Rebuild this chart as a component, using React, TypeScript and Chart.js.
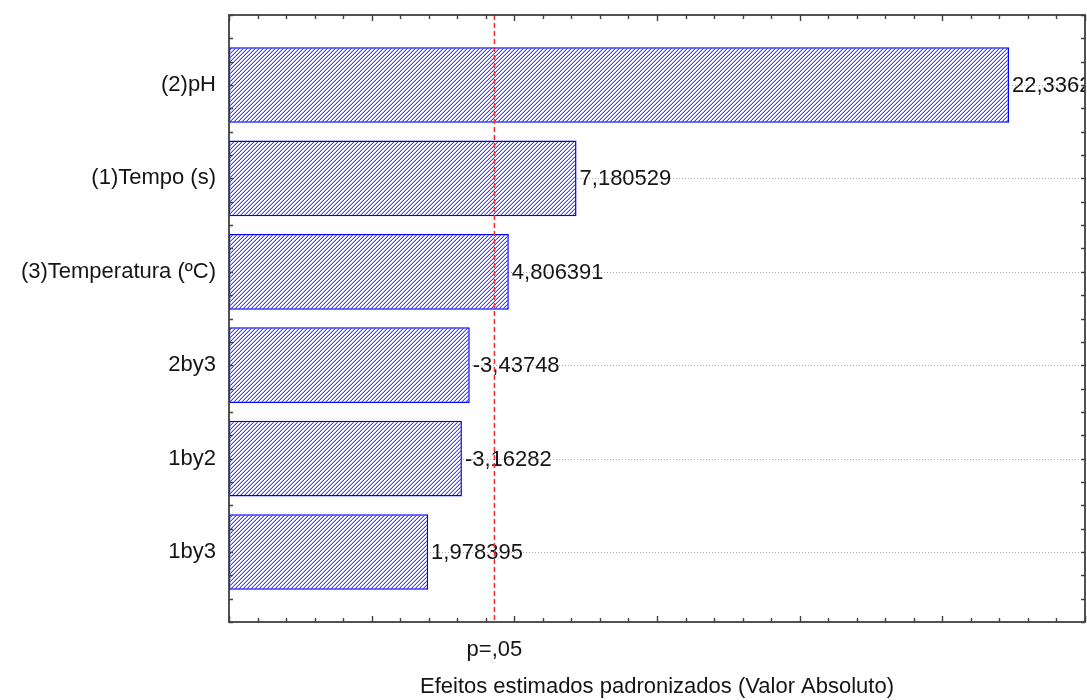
import React, { useEffect, useRef } from "react";
import { Chart, registerables } from "chart.js";

Chart.register(...registerables);

// ---- data ----
const categories = ["(2)pH", "(1)Tempo (s)", "(3)Temperatura (ºC)", "2by3", "1by2", "1by3"];
const effects = [22.3362, 7.180529, 4.806391, -3.43748, -3.16282, 1.978395];
const pValue = 4.302653;
const pLabel = "p=,05";
const xTitle = "Efeitos estimados padronizados (Valor Absoluto)";
const xMin = -5;
const xMax = 25;

const FONT = "'Liberation Sans', Arial, sans-serif";
const TEXT = "#151515";

function makeHatch(): CanvasPattern | string {
  const tile = document.createElement("canvas");
  tile.width = 4;
  tile.height = 4;
  const c = tile.getContext("2d");
  if (!c) return "#8080ff";
  const img = c.createImageData(4, 4);
  for (let y = 0; y < 4; y++) {
    for (let x = 0; x < 4; x++) {
      const k = (y * 4 + x) * 4;
      const m = (x + y) % 4;
      let r = 255, g = 255, b = 255;
      if (m === 3) { r = 60; g = 60; b = 255; }
      else if (m === 2) { r = 190; g = 190; b = 255; }
      img.data[k] = r; img.data[k + 1] = g; img.data[k + 2] = b; img.data[k + 3] = 255;
    }
  }
  c.putImageData(img, 0, 0);
  return c.createPattern(tile, "repeat") || "#8080ff";
}

const decorPlugin = {
  id: "decor",
  beforeDatasetsDraw(chart: any) {
    const { ctx, chartArea, scales } = chart;
    const y = scales.y;
    ctx.save();
    ctx.strokeStyle = "#a8a8a8";
    ctx.lineWidth = 1;
    ctx.setLineDash([1, 2]);
    categories.forEach((_, i) => {
      const py = Math.round(y.getPixelForValue(i)) + 0.5;
      ctx.beginPath();
      ctx.moveTo(chartArea.left, py);
      ctx.lineTo(chartArea.right, py);
      ctx.stroke();
    });
    ctx.restore();
  },
  afterDatasetsDraw(chart: any) {
    const { ctx, chartArea, scales } = chart;
    const x = scales.x;
    const y = scales.y;
    const { left, right, top, bottom } = chartArea;

    // value labels
    ctx.save();
    ctx.beginPath();
    ctx.rect(left, top, right - left, bottom - top);
    ctx.clip();
    ctx.font = `22px ${FONT}`;
    ctx.fillStyle = TEXT;
    ctx.textAlign = "left";
    ctx.textBaseline = "middle";
    effects.forEach((v, i) => {
      const px = x.getPixelForValue(Math.abs(v)) + 3;
      const py = y.getPixelForValue(i) + 1;
      ctx.fillText(String(v).replace(".", ","), px, py);
    });
    ctx.restore();

    // p = .05 line
    const pxp = x.getPixelForValue(pValue);
    ctx.save();
    ctx.strokeStyle = "#ff2a2a";
    ctx.lineWidth = 1.5;
    ctx.setLineDash([5, 3]);
    ctx.beginPath();
    ctx.moveTo(pxp, top);
    ctx.lineTo(pxp, bottom);
    ctx.stroke();
    ctx.restore();

    // frame
    ctx.save();
    ctx.strokeStyle = "#404040";
    ctx.lineWidth = 1.8;
    ctx.strokeRect(left, top, right - left, bottom - top);

    // ticks
    ctx.lineWidth = 1.4;
    for (let v = xMin; v <= xMax; v++) {
      const px = Math.round(x.getPixelForValue(v)) + 0.5;
      const len = v % 5 === 0 ? 6 : 4;
      ctx.beginPath();
      ctx.moveTo(px, bottom);
      ctx.lineTo(px, bottom - len);
      ctx.moveTo(px, top);
      ctx.lineTo(px, top + len);
      ctx.stroke();
    }
    for (let k = 0; k <= 26; k++) {
      const v = -0.75 + k * 0.25;
      const py = Math.round(y.getPixelForValue(v)) + 0.5;
      ctx.beginPath();
      ctx.moveTo(left, py);
      ctx.lineTo(left + 4, py);
      ctx.moveTo(right, py);
      ctx.lineTo(right - 4, py);
      ctx.stroke();
    }
    ctx.restore();

    // axis texts
    ctx.save();
    ctx.font = `22px ${FONT}`;
    ctx.fillStyle = TEXT;
    ctx.textAlign = "center";
    ctx.textBaseline = "middle";
    ctx.fillText(pLabel, pxp, 650);
    ctx.fillText(xTitle, (left + right) / 2, 687);
    ctx.restore();
  },
};

export default function App() {
  const ref = useRef<HTMLCanvasElement | null>(null);

  useEffect(() => {
    if (!ref.current) return;
    const hatch = makeHatch();
    const chart = new Chart(ref.current, {
      type: "bar",
      data: {
        datasets: [
          {
            data: effects.map((v, i) => ({ x: [xMin, Math.abs(v)], y: i })) as any,
            backgroundColor: hatch as any,
            borderColor: "#0000ff",
            borderWidth: 1.5,
            borderSkipped: false,
            barPercentage: 0.81,
            categoryPercentage: 1,
          },
        ],
      },
      options: {
        indexAxis: "y",
        animation: false,
        responsive: false,
        events: [],
        layout: { padding: { left: 0, top: 15, right: 2, bottom: 0 } },
        plugins: { legend: { display: false }, tooltip: { enabled: false }, title: { display: false } },
        scales: {
          x: {
            type: "linear",
            min: xMin,
            max: xMax,
            offset: false,
            grid: { display: false },
            border: { display: false },
            ticks: { display: false },
            afterFit: (s: any) => { s.height = 78; s.paddingLeft = 0; s.paddingRight = 0; },
          },
          y: {
            type: "linear",
            min: -0.75,
            max: 5.75,
            reverse: true,
            offset: false,
            grid: { display: false, drawTicks: false },
            border: { display: false },
            afterBuildTicks: (s: any) => { s.ticks = categories.map((_, i) => ({ value: i })); },
            afterFit: (s: any) => { s.width = 229; s.paddingTop = 0; s.paddingBottom = 0; },
            ticks: {
              padding: 13,
              color: TEXT,
              font: { family: FONT, size: 22 },
              callback: (v: any) => categories[Math.round(Number(v))] ?? "",
            },
          },
        },
      },
      plugins: [decorPlugin],
    });
    return () => chart.destroy();
  }, []);

  return (
    <div style={{ position: "fixed", left: 0, top: 0, width: 1087, height: 700, background: "#fff" }}>
      <canvas ref={ref} width={1087} height={700} style={{ display: "block" }} />
    </div>
  );
}
